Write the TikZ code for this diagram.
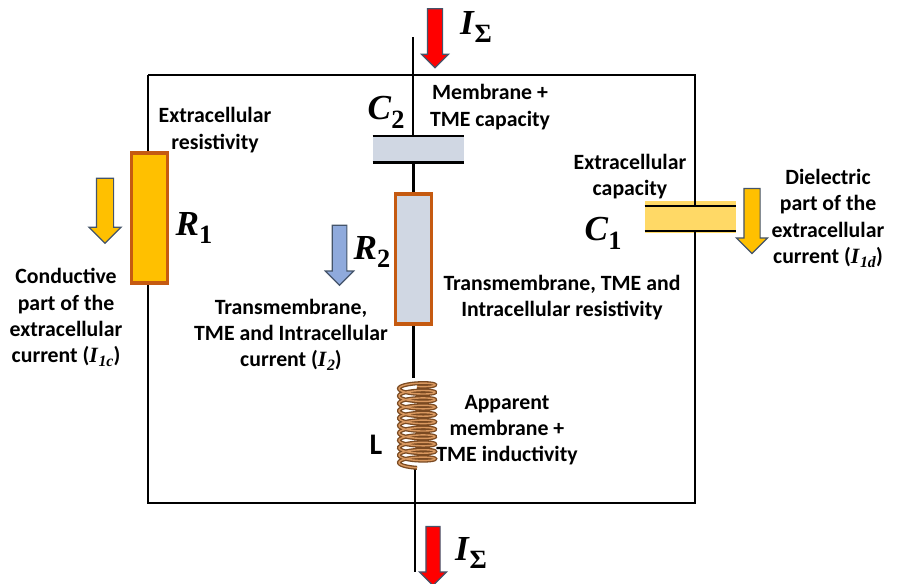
\documentclass[tikz,border=0pt]{standalone}
\usepackage{fontspec}
\setmainfont{Carlito}
\newfontfamily\symfont{Liberation Serif}
\usepackage{tikz}
\usetikzlibrary{shapes.arrows, positioning}
\newcommand{\bigsym}[2]{{\symfont\bfseries\fontsize{20}{20}\selectfont\textit{#1}\raisebox{-0.55ex}{\fontsize{15}{15}\selectfont #2}}}
\newcommand{\cursym}[2]{{\symfont\bfseries\textit{#1}\raisebox{-0.4ex}{\fontsize{9}{9}\selectfont\textit{#2}}}}
\definecolor{wiregold}{HTML}{FFC000}
\definecolor{rimbrown}{HTML}{C55A11}
\definecolor{softgold}{HTML}{FFD966}
\definecolor{softslate}{HTML}{D0D7E3}
\definecolor{arrowblue}{HTML}{8FAADC}
\definecolor{rimslate}{HTML}{44546A}
\definecolor{coildark}{HTML}{7A4A22}
\definecolor{coillight}{HTML}{D9985F}

\begin{document}
\begin{tikzpicture}[x=0.02cm, y=-0.02cm,
            wire/.style={draw=black, line width=1.6pt},
            plate/.style={draw=black, line width=1.3pt},
            resistor/.style={draw=rimbrown, line width=2.1pt, rectangle, minimum width=0.72cm, inner sep=0pt},
            capbox/.style={rectangle, minimum width=1.82cm, inner sep=0pt},
            label/.style={align=center, font=\fontsize{12.4}{14.9}\selectfont\bfseries, inner sep=0pt},
            flow/.style={single arrow, draw=rimslate, line width=0.7pt, rotate=-90, inner xsep=0pt, single arrow tip angle=90}]

            \useasboundingbox (0,0) rectangle (898,583);

            % circuit parts
            \node[resistor, fill=wiregold, minimum height=2.6cm] (rone) at (149.5,218) {};
            \node[resistor, fill=softslate, minimum height=2.6cm] (rtwo) at (413.5,259) {};
            \node[capbox, fill=softslate, minimum height=0.52cm] (ctwo) at (418.5,149) {};
            \node[capbox, fill=softgold, minimum height=0.64cm] (cone) at (690.5,217) {};
            \node[minimum width=0.8cm, minimum height=1.8cm, inner sep=0pt] (coil) at (417,423) {};
            \coordinate (topend) at (413,37);
            \coordinate (botend) at (415,572);
            \coordinate (cornertl) at (148,75);
            \coordinate (cornertr) at (695,75);
            \coordinate (cornerbl) at (148,503);
            \coordinate (cornerbr) at (695,503);
            \coordinate (onetop) at (695,206);
            \coordinate (onebot) at (695,231);

            % wires
            \draw[wire] (cornertl) -- (cornertr) -- (onetop);
            \draw[wire] (onebot) -- (cornerbr) -- (cornerbl) -- (rone.south -| cornerbl);
            \draw[wire] (rone.north -| cornertl) -- (cornertl);
            \draw[wire] (topend) -- (topend |- ctwo.north);
            \draw[wire] (ctwo.south -| rtwo) -- (rtwo.north);
            \draw[wire] (rtwo.south) -- (rtwo.south |- coil.north);
            \draw[wire] (botend |- coil.south) -- (botend);

            % plates
            \draw[plate] (ctwo.north west) -- (ctwo.north east);
            \draw[plate] (ctwo.south west) -- (ctwo.south east);
            \draw[plate] (cone.west |- onetop) -- (cone.east |- onetop);
            \draw[plate] (cone.west |- onebot) -- (cone.east |- onebot);

            % inductor
            \draw[draw=coildark, line width=2.3pt] plot[domain=0:3960, samples=340, smooth, variable=\t] ({417+18*sin(\t)}, {383+\t/360*7.4+3.4*cos(\t)});
            \draw[draw=coillight, line width=0.8pt] plot[domain=0:3960, samples=340, smooth, variable=\t] ({417+18*sin(\t)}, {383+\t/360*7.4+3.4*cos(\t)});

            % block arrows
            \node[flow, fill=red, inner ysep=0.14cm, minimum height=1.18cm, single arrow head extend=0.12cm] (sumtop) at (435,34.5) {};
            \node[flow, fill=red, inner ysep=0.13cm, minimum height=1.18cm, single arrow head extend=0.13cm] (sumbot) at (433,552.5) {};
            \node[flow, fill=wiregold, inner ysep=0.16cm, minimum height=1.3cm, single arrow head extend=0.15cm] (arrone) at (105,206.5) {};
            \node[flow, fill=arrowblue, inner ysep=0.135cm, minimum height=1.2cm, single arrow head extend=0.135cm] (arrtwo) at (339.5,251.5) {};
            \node[flow, fill=wiregold, inner ysep=0.15cm, minimum height=1.3cm, single arrow head extend=0.15cm] (arrd) at (752,217) {};

            % symbols
            \node[inner sep=0pt] (symsumtop) at (476,27) {\bigsym{I}{Σ}};
            \node[inner sep=0pt] (symsumbot) at (471,553) {\bigsym{I}{Σ}};
            \node[inner sep=0pt] (symctwo) at (386,112) {\bigsym{C}{2}};
            \node[inner sep=0pt] (symrtwo) at (372,252) {\bigsym{R}{2}};
            \node[inner sep=0pt] (symrone) at (194,228) {\bigsym{R}{1}};
            \node[inner sep=0pt] (symcone) at (603,233) {\bigsym{C}{1}};
            \node[inner sep=0pt, font=\fontsize{17}{17}\selectfont\bfseries] (syml) at (376,445) {L};

            % captions
            \node[label] (txtctwo) at (490,107) {Membrane +\\TME capacity};
            \node[label] (txtrone) at (215,130) {Extracellular\\resistivity};
            \node[label] (txtcone) at (630,176.5) {Extracellular\\capacity};
            \node[label] (txtd) at (828,218.5) {Dielectric\\part of the\\extracellular\\current (\cursym{I}{1d})};
            \node[label] (txtc) at (66,317.5) {Conductive\\part of the\\extracellular\\current (\cursym{I}{1c})};
            \node[label] (txttwo) at (291,335) {Transmembrane,\\TME and Intracellular\\current (\cursym{I}{2})};
            \node[label] (txtrtwo) at (562,297.5) {Transmembrane, TME and\\Intracellular resistivity};
            \node[label] (txtl) at (507,430) {Apparent\\membrane +\\TME inductivity};
        \end{tikzpicture}
\end{document}
